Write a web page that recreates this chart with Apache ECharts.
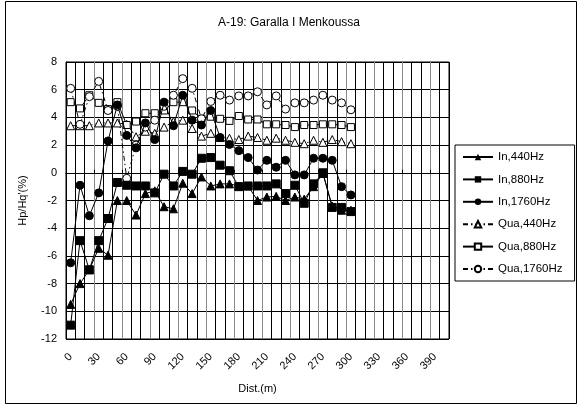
<!DOCTYPE html>
<html><head><meta charset="utf-8">
<script src="https://cdn.jsdelivr.net/npm/echarts@6/dist/echarts.min.js"></script>
<style>html,body{margin:0;padding:0;background:#fff}#c{width:578px;height:405px}</style>
</head><body><div id="c"></div>
<script>
var distLabels = ['0','10','20','30','40','50','60','70','80','90','100','110','120','130','140','150','160','170','180','190','200','210','220','230','240','250','260','270','280','290','300','310','320','330','340','350','360','370','380','390','400'];
var yTicks = {min:-12, max:8, step:2};
var in440  = [-9.5,-8.0,-7.0,-5.45,-5.95,-2.0,-2.0,-3.05,-1.5,-1.3,-2.45,-2.6,-0.75,-1.5,-0.3,-0.95,-0.8,-0.8,-0.95,-0.95,-2.0,-1.75,-1.7,-2.0,-1.75,-1.9,-1.0,-0.05,-2.4,-2.7,-2.7];
var in880  = [-11.0,-4.9,-7.0,-4.9,-3.3,-0.7,-0.9,-0.95,-0.95,-1.45,-0.1,-0.95,0.1,-0.1,1.05,1.1,0.55,0.15,-1.0,-0.95,-0.95,-0.95,-0.8,-1.5,-0.9,-2.2,-0.8,0.0,-2.5,-2.5,-2.8];
var in1760 = [-6.5,-0.9,-3.1,-1.45,2.3,4.9,2.7,1.8,3.6,2.4,5.1,3.4,5.6,3.8,3.45,4.5,2.55,2.05,1.6,1.1,0.2,0.9,0.4,0.9,-0.15,-0.15,1.05,1.05,0.9,-1.0,-1.6];
var qua440 = [3.4,3.4,3.4,3.6,3.6,3.6,3.5,2.6,3.0,2.85,3.3,3.7,3.8,3.2,2.65,2.85,2.55,2.5,2.4,2.65,2.55,2.35,2.5,2.35,2.2,2.1,2.35,2.2,2.4,2.25,2.1];
var qua880 = [5.1,4.65,5.6,5.05,4.6,5.1,3.45,3.7,4.3,4.3,4.5,5.1,5.1,4.5,3.9,4.05,3.9,3.75,4.1,3.85,3.85,3.5,3.5,3.45,3.3,3.45,3.45,3.5,3.5,3.45,3.3];
var qua1760= [6.1,3.5,5.5,6.6,4.5,4.8,-0.4,2.0,3.3,3.8,4.8,5.6,6.8,6.1,3.9,5.15,5.6,5.25,5.55,5.55,5.85,4.9,5.55,4.6,5.05,5.05,5.25,5.6,5.25,5.05,4.55];
var names = ['In,440Hz','In,880Hz','In,1760Hz','Qua,440Hz','Qua,880Hz','Qua,1760Hz'];

var FONT = '"Liberation Sans", Arial, sans-serif';
var dashPat = [5,3,1.5,3];
function filled(name, data, sym, size){
  return {name:name, type:'line', data:data, symbol:sym, symbolSize:size, showSymbol:true, showAllSymbol:true,
    lineStyle:{color:'#000', width:1}, itemStyle:{color:'#000', borderColor:'#000'}, z:3};
}
function open(name, data, sym, size, dash){
  return {name:name, type:'line', data:data, symbol:sym, symbolSize:size, showSymbol:true, showAllSymbol:true,
    lineStyle:{color:'#000', width:1, type:dash||'solid'},
    itemStyle:{color:'#fff', borderColor:'#000', borderWidth:1}, z:2};
}
var chart = echarts.init(document.getElementById('c'), null, {renderer:'canvas'});
chart.setOption({
  animation:false,
  backgroundColor:'#fff',
  textStyle:{fontFamily:FONT},
  title:{text:'A-19: Garalla I Menkoussa', left:'center', top:12,
    textStyle:{fontFamily:FONT, fontSize:12, fontWeight:'normal', color:'#000'}},
  grid:{left:66, top:62, width:383, height:277, show:true, borderColor:'#000', borderWidth:1, backgroundColor:'transparent'},
  legend:{orient:'vertical', left:455, top:145, itemWidth:30, itemHeight:8, itemGap:10.4,
    padding:[6,12,6,7], borderColor:'#000', borderWidth:1, backgroundColor:'#fff',
    textStyle:{fontFamily:FONT, fontSize:11.5, color:'#000'}, data:names},
  xAxis:{type:'category', data:distLabels, boundaryGap:true,
    name:'Dist.(m)', nameLocation:'middle', nameGap:44,
    nameTextStyle:{fontFamily:FONT, fontSize:11, color:'#000'},
    axisLine:{lineStyle:{color:'#000', width:1}},
    axisTick:{show:true, interval:0, inside:true, length:3, lineStyle:{color:'#000'}},
    axisLabel:{interval:2, rotate:45, fontFamily:FONT, fontSize:11, color:'#000', margin:16},
    splitLine:{show:true, interval:0, lineStyle:{color:['#888','#000','#000'], width:1}}},
  yAxis:{type:'value', min:yTicks.min, max:yTicks.max, interval:yTicks.step,
    name:"Hp/Hq'(%)", nameLocation:'middle', nameGap:38, nameRotate:90,
    nameTextStyle:{fontFamily:FONT, fontSize:11, color:'#000'},
    axisLine:{show:true, lineStyle:{color:'#000', width:1}},
    axisTick:{show:false},
    axisLabel:{fontFamily:FONT, fontSize:11, color:'#000', margin:9},
    splitLine:{show:true, lineStyle:{color:'#000', width:1}}},
  graphic:[{type:'rect', shape:{x:5.5, y:1.5, width:571, height:402}, style:{fill:'none', stroke:'#000', lineWidth:1}, silent:true}],
  series:[
    filled(names[0], in440, 'triangle', 8),
    filled(names[1], in880, 'rect', 8),
    filled(names[2], in1760, 'circle', 8),
    open(names[3], qua440, 'triangle', 8, dashPat),
    open(names[4], qua880, 'rect', 7, 'solid'),
    open(names[5], qua1760, 'circle', 8, dashPat)
  ]
});
</script></body></html>
